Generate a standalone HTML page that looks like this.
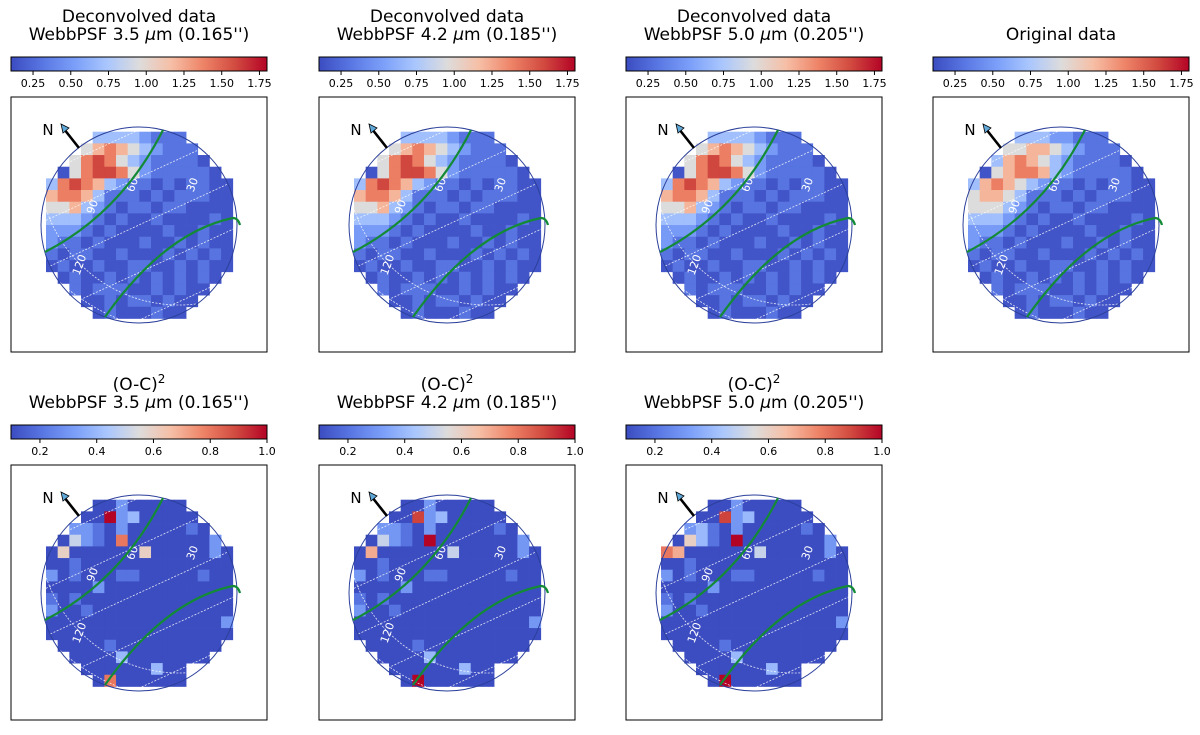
<!DOCTYPE html>
<html><head><meta charset="utf-8"><style>
body{margin:0;background:#fff;}
svg{display:block;font-family:"DejaVu Sans","Liberation Sans",sans-serif;}
</style></head><body>
<svg id="fig" width="1200" height="735" viewBox="0 0 1200 735" xmlns="http://www.w3.org/2000/svg">
<defs>
<linearGradient id="cw" x1="0" x2="1" y1="0" y2="0">
<stop offset="0" stop-color="#3b4cc0"/><stop offset="0.125" stop-color="#5977e3"/><stop offset="0.25" stop-color="#7b9ff9"/><stop offset="0.375" stop-color="#a9c6fd"/><stop offset="0.5" stop-color="#dddcdc"/><stop offset="0.625" stop-color="#f6bfa6"/><stop offset="0.75" stop-color="#ee8468"/><stop offset="0.875" stop-color="#d24b40"/><stop offset="1" stop-color="#b40426"/>
</linearGradient>
</defs>
</svg>
<script>
// ---- data ----
const deconLevels = [0.15,0.3,0.5,0.7,0.95,1.2,1.4,1.6,1.75];
const deconMap = [
"....33332111....",
"...4565432111...",
"..467643211110..",
".04677642111110.",
"3676532110101100",
"5665311101011100",
"4453210110110000",
"3332101001000010",
"2221010000100100",
"2110100010010100",
"1011001000101010",
"0100100110010100",
".01001010101010.",
"..101110010100..",
"...0010110100...",
"....01000100...."];
const origMap = [
"....33322111....",
"...4455432111...",
"..356543211110..",
".04566532111110.",
"3565432110101100",
"4554311101011100",
"4443210110110000",
"3332101001000010",
"2221010000100100",
"2110100010010100",
"1011001000101010",
"0100100110010100",
".01001010101010.",
"..101110010100..",
"...0010110100...",
"....01000100...."];
const resLevels = [0.1,0.2,0.3,0.4,0.5,0.6,0.7,0.8,0.9,1.0];
const resMap1 = [
"....00200000....",
"...0092300000...",
"..221020000010..",
".04210700000002.",
"0500000050000020",
"0010000000000000",
"2010001100000100",
"0000200000000000",
"1010000000000000",
"2001000000000000",
"0000000000000002",
"0000000000000000",
".00001000000000.",
"..000030000000..",
"...000000300...",
"....07000000...."];
const resMap2 = [
"....00200000....",
"...0082300000...",
"..221020000010..",
".04210900000002.",
"0600000040000020",
"0010000000000000",
"2010001100000100",
"0000200000000000",
"1010000000000000",
"2001000000000000",
"0000000000000002",
"0000000000000000",
".00001000000000.",
"..000030000000..",
"...000000300...",
"....09000000...."];
const resMap3 = [
"....00200000....",
"...0082300000...",
"..231020000010..",
".05310900000002.",
"7600000040000020",
"0010000000000000",
"2010001100000100",
"0000200000000000",
"1010000000000000",
"2001000000000000",
"0000000000000002",
"0000000000000000",
".00001000000000.",
"..000030000000..",
"...000000300...",
"....09000000...."];
const topTicks = [0.25,0.5,0.75,1.0,1.25,1.5,1.75];
const topTickLabels = ["0.25","0.50","0.75","1.00","1.25","1.50","1.75"];
const botTicks = [0.2,0.4,0.6,0.8,1.0];
const botTickLabels = ["0.2","0.4","0.6","0.8","1.0"];

const NS="http://www.w3.org/2000/svg";
const svg=document.getElementById('fig');
function mk(tag,attrs,parent){const e=document.createElementNS(NS,tag);for(const k in attrs)e.setAttribute(k,attrs[k]);(parent||svg).appendChild(e);return e;}
function coolwarm(t){
  t=Math.max(0,Math.min(1,t));
  const s=[[0,59,76,192],[0.125,89,119,227],[0.25,123,159,249],[0.375,169,198,253],[0.5,221,220,220],[0.625,246,191,166],[0.75,238,132,104],[0.875,210,75,64],[1,180,4,38]];
  for(let i=0;i<s.length-1;i++){if(t<=s[i+1][0]){const f=(t-s[i][0])/(s[i+1][0]-s[i][0]);
    const c=[1,2,3].map(j=>Math.round(s[i][j]+f*(s[i+1][j]-s[i][j])));return `rgb(${c[0]},${c[1]},${c[2]})`;}}
  return 'rgb(180,4,38)';
}
let clipId=0;
function panel(px,py,title1,title2,sup,map,levels,vmin,vmax,ticks,tickLabels,name){
  const g=mk('g',{});
  
  
  const cx=px+128;
  if(title1){
    const t1=mk('text',{x:cx,y:py-75,'text-anchor':'middle','font-size':'17',fill:'#000'},g);
    t1.textContent=title1;
    if(sup){const ts=mk('tspan',{'dy':'-7','font-size':'12'},t1);ts.textContent=sup;}
    
    
  }
  if(title2){
    const t2=mk('text',{x:cx,y:py-57,'text-anchor':'middle','font-size':'17',fill:'#000'},g);
    t2.innerHTML=title2;
    
    
  }
  const cbY=py-40,cbW=256;
  const cb=mk('rect',{x:px,y:cbY,width:cbW,height:14,fill:'url(#cw)',stroke:'#000','stroke-width':1},g);
  
  
  ticks.forEach((v,i)=>{
    const x=px+(v-vmin)/(vmax-vmin)*cbW;
    mk('line',{x1:x,x2:x,y1:cbY+14,y2:cbY+18,stroke:'#000','stroke-width':1},g);
    const tl=mk('text',{x:x,y:cbY+30,'text-anchor':'middle','font-size':'11',fill:'#000'},g);
    tl.textContent=tickLabels[i];
    
    
  });
  const box=mk('rect',{x:px,y:py,width:256,height:255,fill:'#fff',stroke:'#000','stroke-width':1},g);
  
  
  const cs=11.67,ox=px+35,oy=py+34.7;
  map.forEach((row,r)=>{
    for(let c=0;c<row.length;c++){
      const ch=row[c]; if(ch==='.')continue;
      const v=levels[+ch];
      const cell=mk('rect',{x:ox+c*cs,y:oy+r*cs,width:cs+0.4,height:cs+0.4,fill:coolwarm((v-vmin)/(vmax-vmin))},g);
      
      
    }
  });
  const ccx=px+128,ccy=py+128,R=98;
  const id='clip'+(clipId++);
  const cp=mk('clipPath',{id:id},g);mk('circle',{cx:ccx,cy:ccy,r:R},cp);
  const gg=mk('g',{'clip-path':`url(#${id})`,fill:'none',stroke:'#fff','stroke-width':0.8,'stroke-dasharray':'2,1.5',opacity:0.85},g);
  
  
  [-90,-45,0,45,90].forEach(o=>{mk('line',{x1:ccx-130+o*0.45,y1:ccy+60+o*0.85,x2:ccx+130+o*0.45,y2:ccy-60+o*0.85},gg);});
  [[40,-60,140],[60,-100,210],[-20,-40,150],[-60,-20,170]].forEach(a=>{mk('circle',{cx:ccx+a[0],cy:ccy+a[1],r:a[2]},gg);});
  const disk=mk('circle',{cx:ccx,cy:ccy,r:R,fill:'none',stroke:'#2b3f9a','stroke-width':1},g);
  
  
  [["60",122,88,-70],["30",182,88,-70],["90",82,110,-70],["120",69,168,-70]].forEach(l=>{
    const t=mk('text',{x:px+l[1],y:py+l[2],'text-anchor':'middle','dominant-baseline':'middle','font-size':'11',fill:'#fff',transform:`rotate(${l[3]} ${px+l[1]} ${py+l[2]})`},g);
    t.textContent=l[0];
    
    
  });
  const gr=mk('g',{fill:'none',stroke:'#138a36','stroke-width':2.2},g);
  
  
  mk('path',{d:`M${px+34} ${py+155} Q${px+110} ${py+116} ${px+152} ${py+33}`},gr);
  mk('path',{d:`M${px+94} ${py+220} Q${px+154} ${py+135} ${px+222} ${py+121} Q${px+227} ${py+121} ${px+229} ${py+128}`},gr);
  const ar=mk('g',{},g);
  
  
  mk('line',{x1:px+68,y1:py+51,x2:px+53,y2:py+32,stroke:'#000','stroke-width':2.6},ar);
  mk('polygon',{points:`${px+50},${py+27} ${px+58},${py+31} ${px+52},${py+36}`,fill:'#5fa8d8',stroke:'#000','stroke-width':0.8},ar);
  const nt=mk('text',{x:px+37,y:py+38,'text-anchor':'middle','font-size':'15',fill:'#000'},ar);
  nt.textContent='N';
}
const xs=[11,319,626,933];
const psf=[['3.5','0.165'],['4.2','0.185'],['5.0','0.205']];
for(let i=0;i<3;i++){
  panel(xs[i],97,'Deconvolved data',`WebbPSF ${psf[i][0]} <tspan font-style="italic">μ</tspan>m (${psf[i][1]}'')`,null,deconMap,deconLevels,0.104,1.80,topTicks,topTickLabels,'deconvolved-panel-'+(i+1));
}
(function(){
  const px=933,py=97;
  panel(px,py,'','',null,origMap,deconLevels,0.104,1.80,topTicks,topTickLabels,'original-panel');
  const t=mk('text',{x:px+128,y:py-57,'text-anchor':'middle','font-size':'17',fill:'#000'});
  t.textContent='Original data';
  
  
})();
const resMaps=[resMap1,resMap2,resMap3];
for(let i=0;i<3;i++){
  panel(xs[i],465,'(O-C)',`WebbPSF ${psf[i][0]} <tspan font-style="italic">μ</tspan>m (${psf[i][1]}'')`,'2',resMaps[i],resLevels,0.098,1.0,botTicks,botTickLabels,'residual-panel-'+(i+1));
}
</script>
</body></html>
